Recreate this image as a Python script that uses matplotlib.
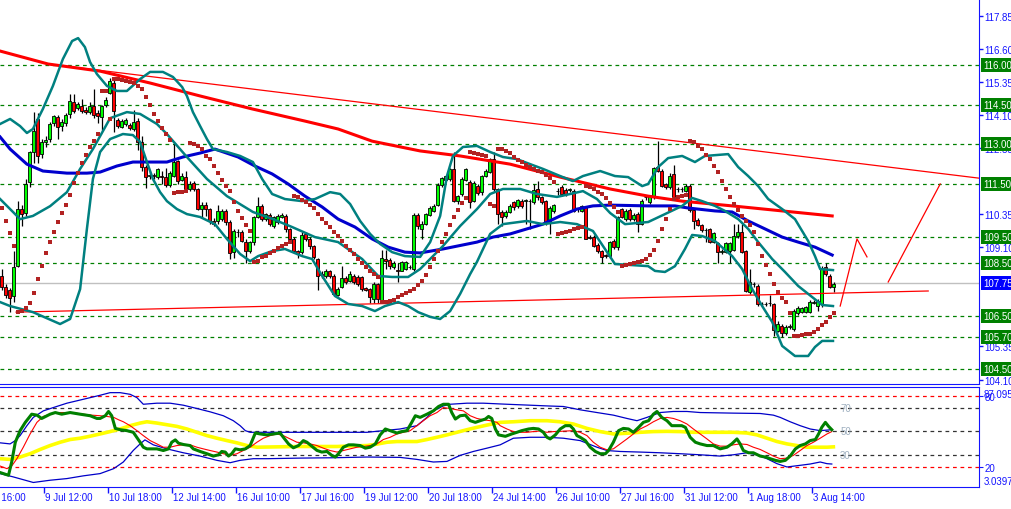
import numpy as np
import matplotlib
matplotlib.use("Agg")
import matplotlib.pyplot as plt
from matplotlib.transforms import blended_transform_factory

plt.rcParams['font.family'] = ['Liberation Sans', 'DejaVu Sans']

# ---- price bars (one per bar index) ----
opens = [108.0, 107.6, 107.5, 107.27, 108.41, 110.55, 110.42, 111.56, 112.7, 113.95,
         112.63, 113.1, 113.2, 113.8, 114.02, 113.7, 113.8, 114.15, 114.61, 114.36,
         114.46, 114.3, 114.21, 114.46, 114.18, 114.05, 114.47, 114.96, 115.34, 113.93,
         113.64, 113.77, 113.75, 113.58, 113.87, 113.07, 112.13, 111.8, 111.85, 111.78,
         111.8, 111.78, 111.46, 111.81, 112.38, 111.66, 111.75, 111.3, 111.53, 111.3,
         110.55, 110.72, 110.55, 110.1, 110.1, 110.17, 110.49, 110.05, 108.91, 109.67,
         109.67, 109.31, 108.97, 109.29, 110.24, 110.68, 110.17, 110.33, 109.9, 110.05,
         110.24, 110.3, 109.8, 109.42, 108.97, 108.91, 109.6, 109.42, 109.14, 108.66,
         108.1, 108.03, 108.2, 108.03, 107.31, 107.6, 107.93, 107.84, 108.03, 107.97,
         107.97, 107.55, 107.53, 107.15, 107.72, 107.08, 108.65, 108.63, 108.35, 108.25,
         108.22, 108.3, 108.36, 108.3, 110.33, 109.8, 109.99, 110.33, 110.49, 110.7,
         111.46, 111.66, 111.68, 112.06, 110.87, 111.12, 111.66, 111.58, 110.87, 111.43,
         111.18, 111.81, 111.97, 112.44, 111.31, 110.45, 110.3, 110.43, 110.8, 110.68,
         110.87, 110.85, 110.87, 110.8, 111.3, 110.99, 110.87, 110.05, 110.49, 111.22,
         111.4, 111.28, 111.27, 111.24, 110.55, 110.49, 110.61, 109.48, 109.48, 109.2,
         108.97, 108.8, 108.78, 109.35, 109.1, 110.55, 110.17, 110.52, 110.17, 110.36,
         109.99, 111.0, 110.8, 111.0, 112.13, 112.0, 111.5, 111.37, 111.87, 111.3,
         111.3, 111.25, 111.43, 110.52, 110.15, 109.95, 109.75, 109.8, 109.32, 109.27,
         108.94, 108.94, 108.97, 109.01, 109.52, 109.7, 108.97, 107.43, 107.7, 107.65,
         106.97, 106.95, 106.98, 106.96, 105.95, 106.14, 105.86, 106.1, 106.01, 106.6,
         106.64, 106.67, 106.64, 107.0, 106.9, 106.96, 108.35, 108.03, 107.59]
highs = [108.3, 107.7, 107.55, 108.97, 110.87, 110.7, 111.7, 112.75, 114.21, 114.2,
         113.2, 113.3, 113.85, 114.1, 114.1, 113.95, 114.2, 114.9, 114.9, 114.6,
         114.7, 114.4, 114.6, 115.09, 114.3, 114.5, 114.8, 115.5, 115.5, 114.0,
         113.95, 114.0, 113.8, 114.3, 114.0, 113.33, 112.2, 112.0, 111.9, 112.1,
         112.0, 112.1, 112.0, 113.07, 112.4, 111.9, 112.0, 111.6, 111.6, 111.35,
         110.8, 110.8, 110.6, 110.2, 110.7, 110.55, 110.55, 110.15, 109.8, 109.8,
         109.75, 109.4, 109.35, 110.3, 110.99, 110.75, 110.4, 110.4, 110.3, 110.35,
         110.4, 110.35, 109.85, 109.5, 109.0, 109.7, 109.7, 109.5, 109.2, 108.7,
         108.2, 108.3, 108.25, 108.1, 107.6, 108.4, 108.0, 108.2, 108.1, 108.05,
         108.0, 107.6, 107.55, 107.8, 107.75, 109.0, 109.0, 108.7, 108.6, 108.5,
         108.6, 108.6, 108.45, 110.4, 110.4, 110.1, 110.4, 110.65, 110.75, 111.55,
         111.75, 111.85, 112.1, 112.72, 111.1, 111.75, 112.1, 111.65, 111.6, 111.5,
         111.85, 112.05, 112.5, 112.7, 111.35, 110.5, 110.5, 110.75, 110.85, 110.95,
         110.95, 110.95, 110.95, 111.5, 111.6, 111.05, 110.9, 110.65, 110.75, 111.35,
         111.45, 111.35, 111.35, 111.3, 110.6, 110.7, 110.65, 109.55, 109.55, 109.25,
         109.0, 108.85, 109.35, 109.4, 110.3, 110.6, 110.55, 110.6, 110.4, 110.45,
         110.95, 111.05, 111.1, 112.15, 113.14, 112.05, 111.55, 111.9, 112.2, 111.4,
         111.4, 111.5, 111.5, 110.55, 110.2, 110.0, 109.85, 109.85, 109.7, 109.3,
         109.05, 109.3, 109.3, 110.0, 110.0, 110.0, 109.0, 108.3, 107.8, 107.7,
         107.05, 107.05, 107.3, 107.0, 106.3, 106.2, 106.15, 106.2, 106.75, 106.9,
         106.85, 106.9, 107.1, 107.1, 107.15, 108.4, 108.5, 108.1, 107.8]
lows = [107.5, 107.2, 106.65, 107.02, 108.35, 109.92, 110.3, 111.4, 112.3, 112.3,
        112.5, 112.9, 113.1, 113.7, 113.2, 113.5, 113.7, 114.0, 114.2, 114.3,
        114.2, 114.15, 114.15, 114.0, 113.8, 113.55, 114.4, 114.9, 113.45, 113.6,
        113.6, 113.7, 113.55, 113.5, 112.8, 112.0, 111.33, 111.7, 111.7, 111.7,
        111.5, 111.4, 111.4, 111.75, 111.5, 111.6, 111.25, 111.25, 111.25, 110.5,
        110.2, 110.3, 110.0, 109.9, 110.0, 110.1, 109.95, 108.66, 108.7, 109.5,
        109.3, 108.5, 108.9, 109.2, 110.2, 110.1, 110.1, 109.9, 109.85, 110.0,
        110.2, 109.7, 109.35, 108.9, 108.7, 108.85, 109.35, 109.05, 108.65, 107.5,
        107.95, 107.95, 107.95, 107.3, 107.25, 107.55, 107.7, 107.8, 107.7, 107.65,
        107.45, 107.45, 107.0, 107.0, 107.0, 107.0, 108.3, 108.3, 108.3, 107.8,
        108.2, 108.25, 108.3, 108.2, 109.8, 109.4, 109.95, 110.3, 110.45, 110.65,
        111.4, 111.6, 111.6, 110.8, 110.75, 111.05, 111.6, 110.6, 110.8, 111.1,
        111.1, 111.75, 111.9, 111.25, 110.0, 109.9, 110.2, 110.4, 110.5, 110.6,
        110.6, 110.0, 109.8, 110.75, 110.9, 110.75, 109.95, 109.6, 110.4, 111.1,
        111.05, 111.05, 111.2, 110.45, 110.45, 110.45, 109.4, 109.4, 109.1, 108.9,
        108.5, 108.7, 108.7, 109.05, 109.0, 110.2, 110.1, 110.1, 110.1, 109.7,
        109.95, 110.9, 110.75, 110.95, 111.95, 111.4, 111.3, 111.3, 110.95, 111.2,
        111.2, 111.2, 110.45, 109.8, 109.9, 109.7, 109.3, 109.25, 109.25, 108.5,
        108.85, 108.9, 108.5, 108.95, 109.45, 108.9, 107.4, 107.35, 107.6, 106.9,
        106.9, 106.9, 106.9, 105.75, 105.9, 105.7, 105.8, 106.0, 105.95, 106.55,
        106.6, 106.6, 106.6, 106.95, 106.7, 106.85, 108.0, 107.55, 107.4]
closes = [107.6, 107.3, 107.2, 108.34, 110.55, 110.36, 111.5, 112.7, 113.5, 112.57,
          113.07, 113.15, 113.76, 114.06, 113.64, 113.85, 114.1, 114.65, 114.27, 114.52,
          114.27, 114.23, 114.44, 114.1, 114.06, 114.46, 114.67, 115.41, 114.25, 113.68,
          113.89, 113.93, 113.6, 113.83, 113.07, 112.16, 111.75, 111.85, 111.8, 112.06,
          111.78, 111.46, 111.9, 112.34, 111.62, 111.81, 111.31, 111.5, 111.31, 110.55,
          110.72, 110.55, 110.08, 110.0, 110.49, 110.49, 110.05, 108.89, 109.73, 109.7,
          109.35, 108.97, 109.29, 110.24, 110.68, 110.17, 110.36, 109.99, 110.24, 110.28,
          110.33, 109.8, 109.42, 108.97, 108.85, 109.57, 109.42, 109.14, 108.72, 108.03,
          108.06, 108.22, 108.03, 107.34, 107.52, 107.94, 107.78, 108.1, 107.78, 107.72,
          107.53, 107.5, 107.21, 107.72, 107.15, 108.7, 108.6, 108.4, 108.5, 108.22,
          108.53, 108.56, 108.34, 110.33, 109.92, 109.98, 110.36, 110.58, 110.68, 111.46,
          111.71, 111.81, 112.06, 110.87, 111.03, 111.68, 112.06, 110.83, 111.53, 111.16,
          111.79, 112.0, 112.44, 111.31, 110.36, 110.24, 110.43, 110.68, 110.61, 110.9,
          110.68, 110.88, 110.85, 111.28, 110.99, 110.83, 110.05, 110.58, 110.7, 111.25,
          111.12, 111.12, 111.3, 110.49, 110.55, 110.65, 109.42, 109.45, 109.16, 108.97,
          108.72, 108.78, 109.29, 109.1, 110.24, 110.24, 110.49, 110.17, 110.33, 109.99,
          110.87, 110.99, 111.03, 112.09, 112.0, 111.43, 111.37, 111.81, 110.99, 111.31,
          111.31, 111.43, 110.52, 110.11, 109.95, 109.77, 109.74, 109.32, 109.64, 108.94,
          108.95, 109.25, 109.26, 109.52, 109.67, 108.94, 107.46, 107.78, 107.72, 106.96,
          106.95, 106.97, 107.0, 105.99, 106.2, 105.86, 106.08, 106.14, 106.7, 106.79,
          106.79, 106.83, 107.02, 107.02, 107.08, 108.31, 108.09, 107.59, 107.72]

# parabolic SAR, one dot per bar
sar = [110.59, 110.10, 109.64, 109.15, 106.65, 106.69, 106.80, 106.99, 107.37, 107.90,
       108.39, 108.89, 109.30, 109.68, 110.06, 110.40, 110.70, 111.08, 111.53, 111.91,
       112.29, 112.59, 112.90, 113.12, 113.39, 115.02, 115.02, 113.96, 115.47, 115.47,
       115.43, 115.39, 115.36, 115.32, 115.21, 115.09, 114.79, 114.49, 114.15, 113.88,
       113.62, 113.39, 113.16, 111.16, 111.19, 111.19, 111.23, 113.05, 113.01, 112.93,
       112.82, 112.56, 112.44, 112.18, 111.91, 111.65, 111.42, 111.23, 110.82, 110.48,
       110.21, 109.95, 109.72, 108.55, 108.58, 108.73, 108.77, 108.89, 108.96, 109.08,
       109.15, 109.23, 109.30, 111.04, 111.01, 110.89, 110.82, 110.70, 110.59, 110.36,
       110.17, 110.02, 109.87, 109.68, 109.53, 109.34, 109.15, 109.00, 108.85, 108.66,
       108.51, 108.36, 108.20, 108.09, 107.98, 107.03, 107.03, 107.07, 107.11, 107.22,
       107.30, 107.37, 107.45, 107.52, 107.68, 107.83, 108.05, 108.36, 108.66, 108.96,
       109.30, 109.61, 109.95, 110.25, 110.51, 110.78, 110.97, 112.71, 112.67, 112.63,
       112.59, 112.56, 110.74, 110.66, 112.82, 112.82, 112.75, 112.67, 112.52, 112.41,
       112.33, 112.22, 112.14, 112.06, 111.99, 111.95, 111.84, 111.72, 111.57, 109.61,
       109.64, 109.68, 109.72, 109.79, 109.83, 109.87, 111.42, 111.38, 111.31, 111.19,
       111.12, 110.97, 110.78, 110.63, 110.44, 108.39, 108.43, 108.47, 108.51, 108.55,
       108.58, 108.66, 108.81, 109.00, 109.34, 109.79, 110.17, 110.55, 110.93, 111.01,
       111.04, 111.08, 113.12, 113.09, 112.93, 112.82, 112.59, 112.44, 112.18, 111.95,
       111.61, 111.31, 111.01, 110.74, 110.51, 110.29, 110.10, 109.95, 109.68, 109.23,
       108.77, 108.43, 108.09, 107.71, 107.41, 107.18, 107.03, 106.62, 105.75, 105.75,
       105.78, 105.82, 105.82, 105.90, 106.01, 106.16, 106.27, 106.46, 106.62]

# ---- main panel indicator lines (bar index, price) ----
ma_slow_x = [-0.4, 11.6, 24.6, 37.1, 49.6, 62.6, 75.8, 84.1, 92.6, 104.6, 114.6, 127.1,
             139.6, 152.1, 161.6, 170.1, 182.6, 195.1, 207.6]
ma_slow_y = [116.53, 116.04, 115.77, 115.32, 114.83, 114.34, 113.88, 113.58, 113.12, 112.75,
             112.56, 112.25, 111.76, 111.31, 111.04, 110.85, 110.67, 110.48, 110.29]

ma_blue_x = [-0.4, 2.1, 6.3, 10.3, 16.3, 21.3, 24.6, 28.8, 32.8, 41.3, 45.3, 49.6, 53.3,
             59.1, 63.3, 67.6, 71.6, 75.8, 80.1, 84.1, 88.3, 92.6, 96.6, 100.8, 104.6,
             110.3, 118.8, 122.8, 127.1, 131.3, 135.3, 139.6, 143.8, 147.8, 152.1, 161.6,
             168.3, 171.6, 178.3, 182.6, 186.6, 190.8, 195.1, 199.1, 203.3, 207.6]
ma_blue_y = [113.28, 112.82, 112.25, 111.99, 111.91, 111.91, 111.95, 112.18, 112.33, 112.33,
             112.52, 112.67, 112.82, 112.52, 112.18, 111.88, 111.50, 111.04, 110.63, 110.17,
             109.87, 109.42, 109.11, 108.92, 108.89, 109.04, 109.30, 109.49, 109.61, 109.80,
             109.98, 110.29, 110.55, 110.67, 110.70, 110.67, 110.67, 110.59, 110.48, 110.44,
             110.10, 109.80, 109.49, 109.30, 109.11, 108.81]

bb_up_x = [-0.4, 2.1, 4.6, 6.3, 7.8, 10.3, 12.8, 15.3, 17.6, 19.1, 20.8, 22.1, 23.8, 26.3,
           28.8, 31.3, 34.6, 37.1, 40.3, 42.8, 45.1, 46.3, 47.8, 49.6, 51.3, 52.8, 56.3,
           59.6, 62.8, 65.1, 67.6, 70.8, 75.1, 78.3, 82.1, 84.6, 87.1, 89.6, 92.1, 94.6,
           97.6, 100.8, 104.6, 107.1, 109.6, 111.3, 112.8, 115.3, 118.8, 122.1, 125.3,
           128.8, 132.1, 135.3, 139.6, 142.8, 145.3, 149.6, 153.3, 156.6, 160.1, 161.6,
           164.1, 166.6, 170.1, 173.3, 175.8, 181.6, 184.1, 186.6, 189.1, 191.6, 195.1,
           198.3, 201.6, 203.3, 204.6, 207.8]
bb_up_y = [113.77, 113.96, 113.69, 113.43, 113.58, 114.34, 115.21, 116.23, 116.91, 117.02,
           116.68, 116.11, 115.66, 115.21, 115.02, 115.02, 115.47, 115.74, 115.74, 115.55,
           115.17, 114.83, 114.22, 113.69, 113.20, 112.82, 112.71, 112.56, 112.33, 111.69,
           111.12, 110.93, 110.85, 110.93, 111.19, 111.12, 110.74, 110.10, 109.61, 109.23,
           108.92, 108.77, 108.74, 109.30, 110.29, 111.80, 112.56, 112.90, 112.94, 112.71,
           112.52, 112.44, 112.25, 112.07, 111.80, 111.61, 111.80, 111.99, 111.80, 111.76,
           111.42, 111.50, 112.14, 112.48, 112.56, 112.33, 112.56, 112.63, 112.14, 111.80,
           111.42, 110.93, 110.55, 110.17, 109.34, 108.77, 108.28, 108.24]

bb_mid_x = [-0.4, 2.1, 4.6, 7.8, 12.1, 16.3, 19.6, 22.8, 27.1, 31.3, 34.6, 38.8, 41.3,
            46.3, 51.3, 56.3, 62.8, 67.8, 72.6, 78.3, 84.1, 90.1, 94.1, 97.6, 101.6, 104.6,
            110.3, 114.6, 118.8, 122.1, 125.3, 129.6, 133.8, 138.8, 142.1, 145.3, 148.8,
            152.1, 155.8, 161.6, 165.8, 170.1, 172.6, 175.1, 178.3, 180.8, 184.1, 186.6,
            189.1, 192.6, 195.8, 199.1, 202.6, 205.1, 207.8]
bb_mid_y = [110.93, 110.55, 110.17, 110.29, 110.66, 111.19, 112.07, 112.82, 113.99, 114.22,
            114.15, 113.77, 113.39, 112.52, 111.69, 111.04, 110.44, 110.17, 109.87, 109.49,
            109.30, 108.66, 108.02, 107.98, 107.98, 108.28, 109.15, 109.91, 110.55, 111.12,
            111.31, 111.31, 111.12, 111.01, 111.12, 111.23, 110.93, 110.40, 109.98, 110.06,
            110.36, 110.67, 110.97, 110.85, 110.67, 110.48, 110.17, 109.80, 109.30, 108.66,
            108.17, 107.64, 107.22, 106.92, 106.88]

bb_low_x = [-0.4, 2.1, 7.8, 14.6, 17.1, 19.6, 21.3, 22.8, 24.6, 27.1, 30.3, 32.8, 34.6,
            36.3, 37.8, 39.6, 41.3, 43.8, 46.3, 49.6, 53.3, 56.3, 59.6, 62.1, 64.1, 67.6,
            70.8, 75.1, 77.6, 80.1, 83.3, 86.6, 90.1, 93.3, 95.8, 99.1, 101.6, 104.1, 107.1,
            109.6, 112.1, 114.6, 117.1, 118.8, 122.1, 125.3, 131.3, 135.3, 139.6, 143.8,
            147.8, 150.8, 153.3, 157.6, 161.6, 163.3, 165.8, 168.3, 170.8, 172.6, 175.1,
            178.3, 182.6, 185.1, 187.6, 190.1, 192.6, 195.1, 198.3, 201.6, 203.3, 205.1,
            207.8]
bb_low_y = [107.03, 106.88, 106.65, 106.20, 106.39, 107.52, 109.80, 111.69, 112.71, 113.20,
            113.39, 113.35, 113.09, 112.33, 111.69, 111.19, 110.85, 110.55, 110.36, 110.25,
            109.98, 109.42, 108.85, 108.58, 108.77, 108.96, 109.04, 108.77, 108.66, 108.02,
            107.26, 106.96, 106.88, 106.69, 106.88, 107.03, 106.88, 106.65, 106.47, 106.39,
            106.69, 107.34, 108.09, 108.55, 109.61, 109.98, 110.10, 109.98, 110.06, 109.98,
            109.72, 109.04, 108.47, 108.43, 108.39, 108.21, 108.17, 108.39, 109.04, 109.57,
            109.53, 109.34, 108.77, 108.28, 107.52, 106.88, 106.28, 105.37, 104.99, 104.99,
            105.33, 105.56, 105.56]

# trend lines and forecast path drawn on the chart
trend_top = ([11.6, 244.3], [116.04, 111.72])
trend_bottom = ([3.6, 231.6], [106.65, 107.45])
forecast_a = ([209.6, 213.8, 216.3], [106.88, 109.42, 108.74])
forecast_b = ([221.6, 234.6], [107.79, 111.50])

levels = [116.00, 114.50, 113.00, 111.50, 109.50, 108.50, 106.50, 105.70, 104.50]
price_now = 107.75
price_ticks = [117.85, 116.60, 115.35, 114.10, 112.85, 110.35, 109.10, 105.35, 104.10]

# ---- oscillator panel (bar index, value) ----
osc_x = [-0.4, 1.7, 2.5, 3.4, 4.6, 5.9, 7.5, 8.8, 10.0, 12.1, 13.4, 15.0, 17.1, 19.6, 22.1,
         23.8, 24.6, 25.9, 26.7, 27.5, 28.4, 29.6, 31.3, 32.9, 34.6, 35.4, 36.3, 38.8, 40.4,
         41.7, 42.5, 43.4, 44.2, 45.4, 47.1, 47.9, 49.6, 51.3, 52.9, 54.2, 55.0, 55.9, 56.7,
         57.5, 58.4, 59.6, 60.9, 62.1, 63.4, 64.6, 66.3, 67.9, 69.6, 70.4, 71.7, 72.9, 74.2,
         75.4, 76.3, 77.5, 78.8, 80.0, 81.3, 82.5, 83.4, 84.2, 85.4, 86.7, 87.9, 89.6, 90.9,
         92.1, 93.4, 94.6, 95.9, 97.1, 98.8, 100.0, 101.3, 102.5, 103.4, 104.6, 106.3, 107.9,
         109.2, 110.4, 111.7, 112.5, 113.4, 114.6, 115.9, 117.1, 118.4, 119.6, 120.9, 121.7,
         122.5, 123.4, 124.2, 125.9, 127.5, 128.8, 130.0, 131.7, 132.9, 134.2, 135.4, 136.3,
         137.1, 138.4, 139.6, 140.9, 142.1, 142.9, 143.8, 144.6, 145.9, 147.1, 148.4, 149.6,
         150.9, 151.7, 152.9, 154.2, 155.4, 156.7, 157.9, 159.2, 160.4, 161.7, 162.9, 163.8,
         165.0, 166.3, 167.5, 168.8, 170.0, 170.9, 172.1, 173.4, 174.6, 176.3, 177.9, 179.6,
         181.3, 182.5, 183.8, 184.6, 185.4, 186.7, 187.9, 189.6, 190.9, 192.1, 193.4, 194.6,
         195.9, 197.1, 198.4, 199.6, 200.9, 202.1, 203.4, 204.2, 205.0, 205.9, 206.7, 207.5]
osc_y = [15.3, 13.0, 24.2, 40.9, 50.7, 57.7, 64.6, 63.8, 61.0, 64.6, 66.0, 64.6, 66.0, 64.6, 63.3,
         61.0, 61.0, 63.3, 66.9, 63.3, 52.6, 51.5, 50.7, 49.3, 40.9, 36.7, 35.3, 35.3, 33.9,
         35.3, 40.9, 42.9, 40.1, 39.0, 38.1, 35.3, 33.1, 31.2, 29.2, 30.3, 33.1, 32.6, 29.2,
         31.2, 35.3, 34.5, 35.3, 38.1, 48.7, 47.9, 47.1, 47.9, 48.7, 45.1, 39.5, 36.2, 38.1,
         42.3, 40.9, 37.6, 34.0, 32.6, 33.1, 29.8, 28.4, 31.2, 36.7, 38.7, 38.7, 38.1, 35.9,
         36.7, 39.5, 47.1, 52.1, 50.7, 48.7, 49.9, 50.7, 57.7, 63.3, 61.9, 64.6, 67.4,
         71.1, 73.0, 73.0, 66.0, 60.5, 63.3, 63.8, 59.1, 57.7, 59.1, 60.5, 62.7,
         61.0, 52.1, 47.1, 45.9, 47.9, 49.3, 50.7, 52.1, 52.6, 52.1, 49.3, 45.1,
         43.7, 47.1, 52.1, 54.9, 54.9, 52.1, 46.5, 45.1, 42.3, 36.7, 33.1, 31.2,
         31.2, 33.9, 40.9, 50.7, 52.6, 52.1, 49.3, 53.5, 57.7, 59.1, 64.6, 66.9,
         61.9, 59.1, 54.9, 54.9, 54.9, 53.5, 45.1, 40.9, 39.5, 38.1, 38.1, 35.3,
         36.7, 39.5, 43.7, 39.5, 33.9, 32.0, 32.0, 29.2, 28.4, 27.0, 25.6, 24.7,
         25.6, 29.2, 35.3, 38.1, 39.5, 42.3, 43.2, 47.9, 53.5, 57.7, 54.3, 51.5]

sig_x = [-0.4, 1.3, 2.5, 3.8, 5.4, 7.1, 8.8, 10.4, 12.1, 14.2, 16.3, 18.4, 20.4, 22.5, 24.6,
         26.3, 28.0, 29.2, 30.4, 32.1, 33.8, 35.4, 37.1, 38.8, 40.4, 42.1, 43.8, 45.4, 47.1,
         48.8, 50.4, 52.1, 53.8, 55.4, 57.1, 58.8, 60.4, 62.1, 63.8, 65.4, 67.1, 68.8, 70.4,
         72.1, 73.8, 75.4, 77.1, 78.8, 80.4, 82.1, 83.8, 85.4, 87.1, 88.8, 90.4, 92.1, 93.8,
         95.4, 97.1, 98.8, 100.4, 102.1, 103.8, 105.4, 107.1, 108.8, 110.4, 112.1, 113.8,
         115.4, 117.1, 118.8, 120.4, 122.1, 123.8, 124.6, 126.3, 127.9, 129.6, 131.3, 132.9,
         134.6, 136.3, 137.9, 139.6, 141.3, 142.9, 144.6, 146.3, 147.9, 149.6, 151.3, 152.9,
         154.6, 156.3, 157.9, 159.6, 161.3, 162.9, 164.6, 166.3, 167.9, 169.6, 171.3, 172.9,
         174.6, 176.3, 177.9, 179.6, 181.3, 182.9, 184.6, 186.3, 187.9, 189.6, 191.3, 192.9,
         194.6, 196.3, 197.9, 199.6, 201.3, 202.9, 204.6, 206.3, 207.5]
sig_y = [20.8, 18.6, 20.8, 27.0, 36.7, 47.9, 57.7, 62.7, 64.6, 66.0, 66.0, 65.5, 64.6, 63.8, 63.3,
         62.7, 61.9, 59.9, 58.2, 54.9, 50.7, 46.5, 42.3, 39.5, 36.7, 36.7, 38.1, 38.7, 38.7,
         36.7, 35.3, 33.9, 32.6, 31.2, 29.8, 31.2, 33.9, 36.7, 40.9, 44.3, 46.5, 47.9, 46.5,
         43.7, 40.9, 40.4, 39.5, 38.1, 35.9, 33.9, 32.6, 33.9, 35.3, 36.7, 37.3, 38.1, 39.5,
         43.2, 45.1, 47.9, 49.3, 50.7, 54.9, 59.1, 63.3, 66.0, 70.2, 69.4, 68.3,
         67.4, 63.3, 61.0, 59.9, 59.1, 57.7, 54.9, 52.1, 49.9, 49.3, 49.3, 49.9,
         50.4, 49.3, 49.9, 50.1, 50.4, 50.7, 49.3, 46.5, 40.9, 36.7, 34.5, 35.3,
         39.5, 43.7, 47.9, 52.1, 54.9, 58.2, 61.0, 61.9, 61.0, 59.1, 56.3, 52.1,
         47.9, 43.7, 39.5, 37.6, 37.6, 38.7, 39.5, 39.0, 36.7, 34.8, 32.0, 29.2,
         27.0, 27.5, 29.8, 33.9, 38.1, 40.9, 44.3, 47.9, 49.9]

avg_x = [-0.4, 2.1, 4.6, 7.1, 9.6, 12.1, 14.6, 17.1, 19.6, 22.1, 24.6, 27.1, 29.6, 32.1, 34.6,
         36.3, 38.8, 41.3, 43.8, 46.3, 48.8, 51.3, 53.8, 56.3, 58.8, 61.3, 63.8, 68.8, 73.8,
         78.8, 83.8, 88.8, 91.3, 93.8, 96.3, 98.8, 103.8, 106.3, 108.8, 111.3, 113.8, 116.3,
         118.8, 121.3, 124.6, 127.9, 132.1, 136.3, 139.6, 142.9, 146.3, 149.6, 152.9, 156.3,
         159.6, 162.9, 166.3, 169.6, 172.9, 177.9, 182.9, 186.3, 188.8, 191.3, 193.8, 196.3,
         198.8, 201.3, 203.8, 206.3, 207.9]
avg_y = [27.0, 26.4, 28.4, 31.2, 34.8, 38.1, 40.9, 43.2, 44.3, 46.0, 47.9, 49.9, 52.1, 54.9, 57.1,
         58.2, 57.1, 55.7, 54.3, 52.1, 49.3, 46.5, 44.3, 42.3, 40.4, 38.1, 36.7, 37.0, 37.3,
         37.3, 37.3, 37.9, 38.1, 39.3, 40.9, 41.5, 41.5, 43.2, 45.1, 47.1, 49.3, 51.5,
         53.5, 55.4, 57.7, 58.2, 59.1, 59.1, 58.2, 56.3, 52.6, 49.9, 47.9, 48.5,
         49.3, 49.9, 50.1, 49.9, 49.3, 49.3, 49.3, 48.7, 47.1, 44.3, 41.5, 39.5,
         38.1, 36.7, 36.7, 36.7, 37.0]

band_up_x = [-0.4, 2.1, 3.4, 4.6, 6.3, 7.9, 10.4, 12.9, 16.3, 20.4, 24.6, 27.1, 29.6, 32.1,
             33.8, 35.4, 38.8, 42.1, 45.4, 48.8, 52.1, 55.4, 57.9, 59.6, 60.9, 62.1, 74.6,
             91.3, 95.4, 99.6, 103.8, 106.3, 107.9, 110.4, 112.1, 116.3, 120.4, 126.3, 132.1,
             136.3, 140.4, 144.6, 148.8, 152.9, 156.3, 158.8, 161.3, 164.6, 167.9, 171.3,
             174.6, 182.9, 189.6, 192.9, 194.6, 197.1, 199.6, 202.1, 204.6, 207.5]
band_up_y = [40.4, 39.5, 42.3, 46.5, 54.9, 61.9, 67.4, 70.2, 73.9, 77.2, 80.6, 82.8, 82.8, 81.4,
             78.6, 73.0, 73.9, 73.9, 72.2, 69.4, 66.6, 63.3, 59.1, 54.9, 50.7, 49.3, 49.3,
             49.3, 50.7, 52.1, 54.9, 61.9, 67.4, 71.6, 73.0, 73.9, 73.9, 73.0, 72.2,
             71.6, 71.1, 68.3, 66.0, 63.8, 61.0, 59.1, 61.9, 66.0, 66.9, 66.9,
             66.0, 65.5, 65.2, 63.8, 61.9, 58.2, 54.9, 52.1, 50.7, 51.5]

band_low_x = [-0.4, 2.9, 7.9, 12.1, 16.3, 20.4, 24.6, 28.0, 30.4, 32.9, 34.6, 35.8, 37.9, 41.3,
              45.4, 49.6, 53.8, 57.1, 59.6, 62.9, 66.3, 74.6, 82.9, 91.3, 99.6, 103.8, 107.9,
              111.3, 114.6, 117.9, 121.3, 124.6, 127.9, 132.1, 136.3, 140.4, 144.6, 148.8,
              151.3, 154.6, 159.6, 164.6, 169.6, 174.6, 179.6, 182.9, 186.3, 188.8, 191.3,
              193.8, 196.3, 199.6, 202.1, 204.6, 206.3, 207.5]
band_low_y = [14.4, 11.6, 6.9, 8.8, 10.2, 12.5, 14.4, 18.6, 24.2, 34.0, 39.5, 42.9, 38.7, 35.3,
              32.0, 29.2, 25.6, 23.6, 25.6, 27.0, 27.0, 27.5, 27.8, 28.4, 28.1, 26.4, 24.2,
              24.7, 29.8, 33.1, 35.9, 38.7, 44.3, 45.1, 45.1, 44.3, 42.3, 36.7,
              33.9, 33.1, 32.6, 32.0, 31.2, 30.3, 29.2, 30.3, 32.0, 30.3, 27.0,
              22.8, 20.0, 21.4, 22.5, 24.2, 22.8, 22.5]

time_bars = [-6.2, 10.6, 26.6, 42.6, 58.6, 74.6, 90.6, 106.6, 122.6, 138.6, 154.6, 170.6,
             186.6, 202.6]
time_labels = ['6 Jul 16:00', '9 Jul 12:00', '10 Jul 18:00', '12 Jul 14:00', '16 Jul 10:00',
               '17 Jul 16:00', '19 Jul 12:00', '20 Jul 18:00', '24 Jul 14:00', '26 Jul 10:00',
               '27 Jul 16:00', '31 Jul 12:00', '1 Aug 18:00', '3 Aug 14:00']

AXIS_BLUE = '#1414ff'
FS = 7

fig = plt.figure(figsize=(10.11, 5.10), dpi=100)
fig.patch.set_facecolor('white')
ax = fig.add_axes([0, 1 - 385 / 510, 979 / 1011, 385 / 510])
ax2 = fig.add_axes([0, 1 - 488 / 510, 979 / 1011, 100.5 / 510])

xlim = (-0.425, 244.3)

# ---------------- main panel ----------------
ax.set_xlim(*xlim)
ax.set_ylim(103.93, 118.5)

for lv in levels:
    ax.axhline(lv, color='#008000', lw=0.9, ls=(0, (3, 3)), zorder=1)
ax.axhline(price_now, color='#c0c0c0', lw=1, zorder=1)

o = np.array(opens); h = np.array(highs); l = np.array(lows); c = np.array(closes)
x = np.arange(len(c))
up = c >= o
body = np.maximum(np.abs(c - o), 0.015)
ax.vlines(x, l, h, color='black', lw=0.9, zorder=3)
ax.bar(x[up], body[up], bottom=o[up], width=0.75, color='#00ff00',
       edgecolor='black', lw=0.6, zorder=4)
ax.bar(x[~up], body[~up], bottom=c[~up], width=0.75, color='#ff0000',
       edgecolor='black', lw=0.6, zorder=4)

ax.plot(ma_slow_x, ma_slow_y, color='#ff0000', lw=2.2, zorder=5)
ax.plot(*trend_top, color='#ff0000', lw=0.9, zorder=5)
ax.plot(*trend_bottom, color='#ff0000', lw=0.9, zorder=5)
ax.plot(*forecast_a, color='#ff0000', lw=0.9, zorder=5)
ax.plot(*forecast_b, color='#ff0000', lw=0.9, zorder=5)
ax.plot(ma_blue_x, ma_blue_y, color='#0000cd', lw=2.2, zorder=5)
for bx, by in [(bb_up_x, bb_up_y), (bb_mid_x, bb_mid_y), (bb_low_x, bb_low_y)]:
    ax.plot(bx, by, color='#008080', lw=1.8, zorder=5)
ax.plot(x, sar, 's', color='#b22222', ms=2.9, mew=0, zorder=6)

for s in ['top', 'left']:
    ax.spines[s].set_visible(False)
ax.spines['right'].set_color(AXIS_BLUE)
ax.spines['bottom'].set_color(AXIS_BLUE)
ax.set_xticks([])
ax.yaxis.tick_right()
ax.set_yticks(price_ticks)
ax.set_yticklabels([f'{t:.2f}' for t in price_ticks])
ax.tick_params(axis='y', colors=AXIS_BLUE, labelcolor=AXIS_BLUE, labelsize=FS,
               length=3, width=1, pad=1)

tr = blended_transform_factory(ax.transAxes, ax.transData)
for lv in levels:
    ax.text(1.004, lv, f'{lv:.2f}', transform=tr, ha='left', va='center',
            color='white', fontsize=FS, zorder=10,
            bbox=dict(boxstyle='square,pad=0.2', fc='#008000', ec='none'))
ax.text(1.004, price_now, f'{price_now:.2f}', transform=tr, ha='left', va='center',
        color='white', fontsize=FS, zorder=10,
        bbox=dict(boxstyle='square,pad=0.2', fc='#0000ff', ec='none'))

# ---------------- oscillator panel ----------------
ax2.set_xlim(*xlim)
ax2.set_ylim(3.08, 88.0)
for lv, col in [(80, '#ff0000'), (20, '#ff0000'), (70, '#333333'), (50, '#333333'), (30, '#333333')]:
    ax2.axhline(lv, color=col, lw=0.9, ls=(0, (3, 3)), zorder=1)
ax2.plot(band_up_x, band_up_y, color='#0000c8', lw=0.9, zorder=2)
ax2.plot(band_low_x, band_low_y, color='#0000c8', lw=0.9, zorder=2)
ax2.plot(avg_x, avg_y, color='#ffff00', lw=2.6, zorder=3)
ax2.plot(sig_x, sig_y, color='#ff0000', lw=0.8, zorder=4)
ax2.plot(osc_x, osc_y, color='#008000', lw=2.2, zorder=5)
for lv in [70, 50, 30]:
    ax2.text(209.6, lv, str(lv), color='#9fb0c0', fontsize=FS, ha='left', va='center')

ax2.spines['left'].set_visible(False)
for s in ['top', 'right', 'bottom']:
    ax2.spines[s].set_color(AXIS_BLUE)
ax2.yaxis.tick_right()
ax2.set_yticks([80, 20])
ax2.set_yticklabels(['80', '20'])
ax2.tick_params(axis='y', colors=AXIS_BLUE, labelcolor=AXIS_BLUE, labelsize=FS,
                length=3, pad=1)
tr2 = blended_transform_factory(ax2.transAxes, ax2.transData)
ax2.text(1.005, 81.5, '87.095', transform=tr2, color=AXIS_BLUE, fontsize=FS, va='center')
ax2.text(1.005, 8.0, '3.0397', transform=tr2, color=AXIS_BLUE, fontsize=FS, va='center')

ax2.set_xticks([t for t in time_bars if t > xlim[0]])
ax2.set_xticklabels([])
ax2.tick_params(axis='x', colors=AXIS_BLUE, length=4, width=1)
tr3 = blended_transform_factory(ax2.transData, ax2.transAxes)
for tb, lab in zip(time_bars, time_labels):
    ax2.text(tb + 0.3, -0.045, lab, transform=tr3, color=AXIS_BLUE, fontsize=FS,
             ha='left', va='top', clip_on=False)

fig.savefig('out.png', dpi=100, facecolor='white')
